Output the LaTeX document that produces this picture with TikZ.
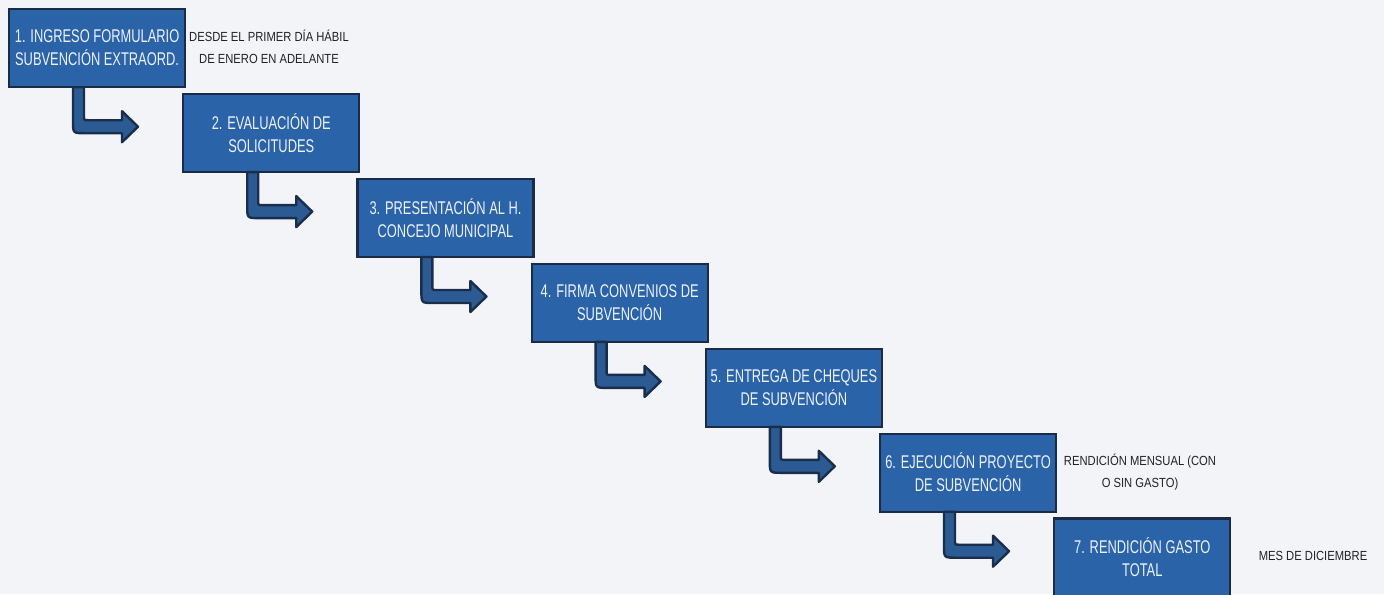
\documentclass[tikz,border=0pt]{standalone}
\usepackage{fontspec}
\setmainfont{Liberation Sans}
\newfontfamily\boxfont[FakeStretch=0.70]{Liberation Sans}
\newfontfamily\sidefont[FakeStretch=0.85]{Liberation Sans}
\definecolor{bgc}{HTML}{F3F4F8}
\definecolor{boxfill}{HTML}{2A63A8}
\definecolor{boxline}{HTML}{1B2A45}
\definecolor{arrfill}{HTML}{2C5A93}
\definecolor{arrline}{HTML}{1A2E4C}
\definecolor{boxtext}{HTML}{EEF2F8}
\definecolor{sidetext}{HTML}{222226}
\tikzset{
  stepbox/.style={draw=boxline, line width=1.1pt, fill=boxfill, anchor=north west,
    minimum width=88pt, minimum height=39pt, inner sep=0pt, align=center,
    text=boxtext, font=\boxfont\fontsize{9.2}{11.5}\selectfont},
  sidenote/.style={align=center, text=sidetext, inner sep=0pt,
    font=\sidefont\fontsize{6.6}{11}\selectfont},
  arrowsty/.style={fill=arrfill, draw=arrline, line width=1.2pt, line join=round},
  bendarrow/.pic={
    \filldraw[arrowsty] (65,-1) -- (65,33) .. controls (65,45) and (65,45) .. (77,45)
      -- (114,45) -- (114,54) -- (130,38.5) -- (114,23) -- (114,32) -- (80,32)
      .. controls (76,32) and (76,32) .. (76,28) -- (76,-1) -- cycle;
  }
}
\begin{document}
\begin{tikzpicture}[x=0.5pt,y=-0.5pt]
\fill[bgc] (0,0) rectangle (1384,594);
\useasboundingbox (0,0) rectangle (1384,594);

\node[stepbox] (b1) at (8,8)       {1. INGRESO FORMULARIO\\SUBVENCIÓN EXTRAORD.};
\node[stepbox] (b2) at (182.2,92.9)  {2. EVALUACIÓN DE\\SOLICITUDES};
\node[stepbox] (b3) at (356.4,177.8) {3. PRESENTACIÓN AL H.\\CONCEJO MUNICIPAL};
\node[stepbox] (b4) at (530.6,262.7) {4. FIRMA CONVENIOS DE\\SUBVENCIÓN};
\node[stepbox] (b5) at (704.8,347.6) {5. ENTREGA DE CHEQUES\\DE SUBVENCIÓN};
\node[stepbox] (b6) at (879,432.5)   {6. EJECUCIÓN PROYECTO\\DE SUBVENCIÓN};
\node[stepbox] (b7) at (1053.2,517.4) {7. RENDICIÓN GASTO\\TOTAL};

\foreach \b in {b1,b2,b3,b4,b5,b6}
  \pic at (\b.south west) {bendarrow};

\node[sidenote] (s1) at (269,47)  {DESDE EL PRIMER DÍA HÁBIL\\DE ENERO EN ADELANTE};
\node[sidenote] (s6) at (1140,472) {RENDICIÓN MENSUAL (CON\\O SIN GASTO)};
\node[sidenote] (s7) at (1313,556) {MES DE DICIEMBRE};
\end{tikzpicture}
\end{document}
